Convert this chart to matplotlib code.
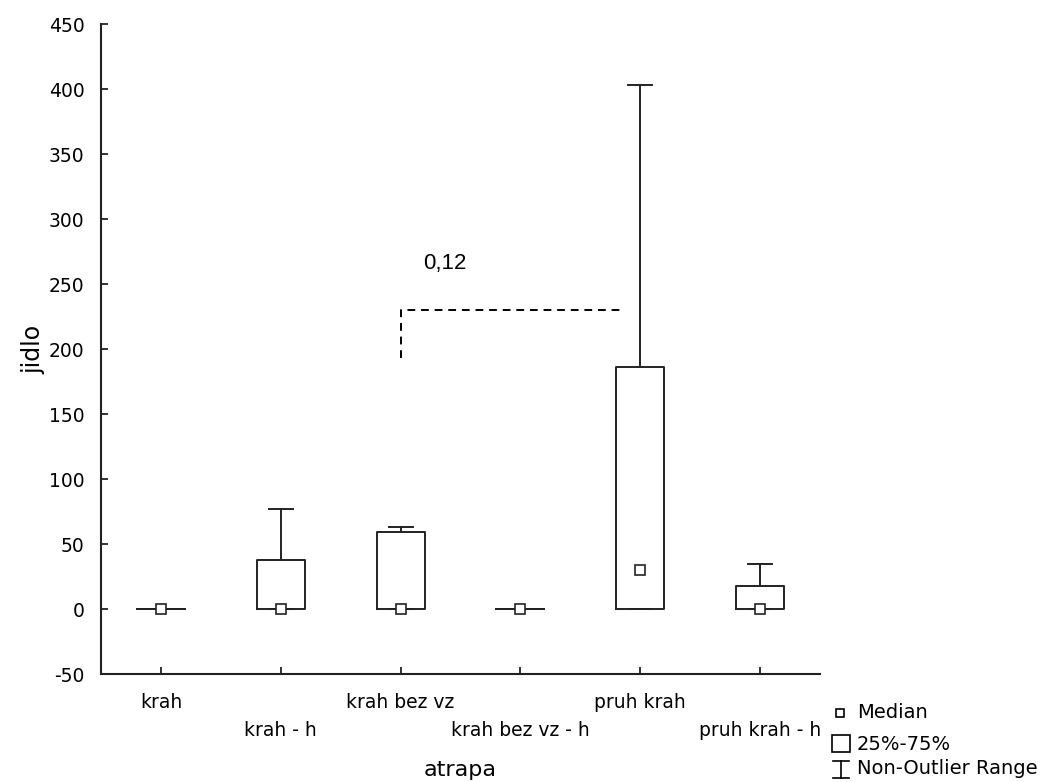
import matplotlib
matplotlib.use("Agg")
import matplotlib.pyplot as plt
from matplotlib.lines import Line2D
from matplotlib.patches import Rectangle

# data (jidlo by atrapa)
categories = ["krah", "krah - h", "krah bez vz", "krah bez vz - h", "pruh krah", "pruh krah - h"]
medians = [0, 0, 0, 0, 30, 0]
q1 = [0, 0, 0, 0, 0, 0]
q3 = [0, 38, 59, 0, 186, 18]
whisker_lo = [0, 0, 0, 0, 0, 0]
whisker_hi = [0, 77, 63, 0, 403, 35]

# dashed comparison bracket between krah bez vz and pruh krah
bracket_x = [2, 2, 3.83]
bracket_y = [193, 230, 230]
p_label = "0,12"
p_pos = (2.37, 266)

yticks = [-50, 0, 50, 100, 150, 200, 250, 300, 350, 400, 450]

fig = plt.figure(figsize=(10.4, 7.82), dpi=100)
ax = fig.add_axes([0.0971, 0.1381, 0.6914, 0.8312])

stats = []
for i, name in enumerate(categories):
    stats.append({
        "label": name,
        "med": medians[i],
        "mean": medians[i],
        "q1": q1[i],
        "q3": q3[i],
        "whislo": whisker_lo[i],
        "whishi": whisker_hi[i],
        "fliers": [],
    })

lw = 1.4
ink = "#222222"
ax.bxp(stats, positions=range(len(categories)), widths=0.4,
       showmeans=True, showfliers=False,
       boxprops=dict(color=ink, linewidth=lw),
       whiskerprops=dict(color=ink, linewidth=lw),
       capprops=dict(color=ink, linewidth=lw),
       medianprops=dict(linewidth=0),
       meanprops=dict(marker="s", markersize=7.5, markerfacecolor="white",
                      markeredgecolor=ink, markeredgewidth=1.2))

ax.plot(bracket_x, bracket_y, color="black", linestyle=(0, (4, 3)), linewidth=1.4)
ax.text(p_pos[0], p_pos[1], p_label, fontsize=16, family="Liberation Sans",
        ha="center", va="center")

ax.set_xlim(-0.5, 5.5)
ax.set_ylim(-50, 450)
ax.set_yticks(yticks)
ax.set_yticklabels([str(v) for v in yticks])

# alternate category labels on two rows (even = major, odd = minor)
ax.set_xticks([0, 2, 4])
ax.set_xticklabels([categories[0], categories[2], categories[4]])
ax.set_xticks([1, 3, 5], minor=True)
ax.set_xticklabels([categories[1], categories[3], categories[5]], minor=True)

ax.spines["top"].set_visible(False)
ax.spines["right"].set_visible(False)
for s in ("left", "bottom"):
    ax.spines[s].set_linewidth(1.5)
    ax.spines[s].set_color(ink)

ax.tick_params(axis="y", direction="in", length=5, width=1.3, pad=12, labelsize=13.5, color=ink)
ax.tick_params(axis="x", which="major", direction="in", length=5, width=1.3, pad=14, labelsize=13.5, color=ink)
ax.tick_params(axis="x", which="minor", direction="in", length=5, width=1.3, pad=34, labelsize=13.5, color=ink)

ax.set_xlabel("atrapa", fontsize=16, labelpad=14)
ax.set_ylabel("jidlo", fontsize=17, labelpad=2)

# legend drawn by hand in figure pixels
def fx(px):
    return px / 1040.0

def fy(py):
    return 1 - py / 782.0

fig.add_artist(Line2D([fx(840)], [fy(713)], marker="s", markersize=6,
                      markerfacecolor="white", markeredgecolor="black",
                      markeredgewidth=1.2, transform=fig.transFigure))
fig.add_artist(Rectangle((fx(832), fy(752)), fx(18), fy(735) - fy(752),
                         facecolor="white", edgecolor="black", linewidth=1.2,
                         transform=fig.transFigure))
fig.add_artist(Line2D([fx(841), fx(841)], [fy(761), fy(778)], color="black",
                      linewidth=1.2, transform=fig.transFigure))
fig.add_artist(Line2D([fx(833), fx(849)], [fy(761), fy(761)], color="black",
                      linewidth=1.2, transform=fig.transFigure))
fig.add_artist(Line2D([fx(833), fx(849)], [fy(778), fy(778)], color="black",
                      linewidth=1.2, transform=fig.transFigure))
for label, py in [("Median", 713), ("25%-75%", 744), ("Non-Outlier Range", 769)]:
    fig.text(fx(857), fy(py), label, fontsize=14, ha="left", va="center")

fig.savefig("out.png", dpi=100)
